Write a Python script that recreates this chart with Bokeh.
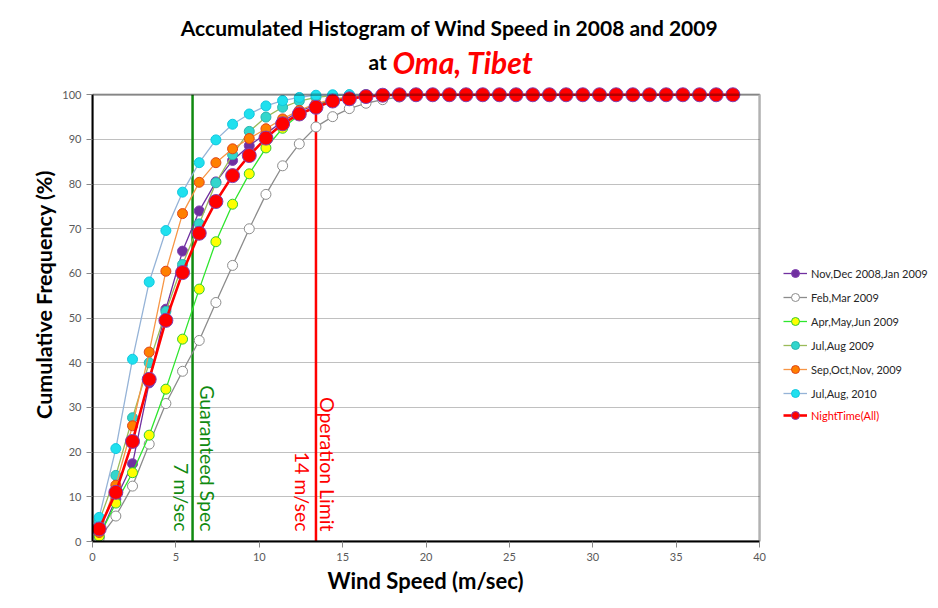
import math
from bokeh.plotting import figure
from bokeh.models import (Legend, LegendItem, Label, FixedTicker, Range1d, ColumnDataSource,
                          BoxAnnotation)
from bokeh.embed import file_html
from bokeh.resources import INLINE

# ---------------- data ----------------
WIND_SPEED = [0.4, 1.4, 2.4, 3.4, 4.4, 5.4, 6.4, 7.4, 8.4, 9.4,
              10.4, 11.4, 12.4, 13.4, 14.4, 15.4, 16.4, 17.4, 18.4, 19.4,
              20.4, 21.4, 22.4, 23.4, 24.4, 25.4, 26.4, 27.4, 28.4, 29.4,
              30.4, 31.4, 32.4, 33.4, 34.4, 35.4, 36.4, 37.4, 38.4]

NOV_JAN_0809 = [1.0, 9.5, 17.4, 35.5, 52.0, 65.0, 74.0, 80.5, 85.3, 88.6,
                91.3, 94.0, 96.3, 97.8, 98.8, 99.4, 99.7, 99.9, 100, 100,
                100, 100, 100, 100, 100, 100, 100, 100, 100, 100,
                100, 100, 100, 100, 100, 100, 100, 100, 100]
FEB_MAR_09 = [0.7, 5.7, 12.4, 21.8, 30.9, 38.1, 45.0, 53.5, 61.8, 70.0,
              77.7, 84.1, 89.0, 92.8, 95.1, 96.9, 98.1, 98.9, 99.5, 99.8,
              100, 100, 100, 100, 100, 100, 100, 100, 100, 100,
              100, 100, 100, 100, 100, 100, 100, 100, 100]
APR_JUN_09 = [1.2, 8.6, 15.4, 23.8, 34.1, 45.3, 56.5, 67.1, 75.5, 82.3,
              88.1, 92.5, 95.5, 97.5, 98.8, 99.5, 99.8, 100, 100, 100,
              100, 100, 100, 100, 100, 100, 100, 100, 100, 100,
              100, 100, 100, 100, 100, 100, 100, 100, 100]
JUL_AUG_09 = [4.5, 14.8, 27.7, 40.0, 51.5, 62.0, 71.1, 80.3, 86.6, 91.8,
              95.0, 97.2, 98.6, 99.4, 99.8, 100, 100, 100, 100, 100,
              100, 100, 100, 100, 100, 100, 100, 100, 100, 100,
              100, 100, 100, 100, 100, 100, 100, 100, 100]
SEP_NOV_09 = [2.0, 12.6, 25.9, 42.4, 60.5, 73.4, 80.4, 84.8, 87.9, 90.2,
              92.4, 94.6, 96.5, 98.0, 99.0, 99.5, 99.8, 100, 100, 100,
              100, 100, 100, 100, 100, 100, 100, 100, 100, 100,
              100, 100, 100, 100, 100, 100, 100, 100, 100]
JUL_AUG_10 = [5.4, 20.8, 40.8, 58.1, 69.6, 78.2, 84.8, 89.9, 93.4, 95.7,
              97.5, 98.7, 99.4, 99.9, 100, 100, 100, 100, 100, 100,
              100, 100, 100, 100, 100, 100, 100, 100, 100, 100,
              100, 100, 100, 100, 100, 100, 100, 100, 100]
NIGHT_ALL = [2.8, 11.0, 22.4, 36.3, 49.5, 60.2, 69.0, 76.1, 81.9, 86.4,
             90.3, 93.5, 95.7, 97.2, 98.6, 99.1, 99.6, 99.9, 100, 100,
             100, 100, 100, 100, 100, 100, 100, 100, 100, 100,
             100, 100, 100, 100, 100, 100, 100, 100, 100]

SERIES_NAMES = ["Nov,Dec 2008,Jan 2009", "Feb,Mar 2009", "Apr,May,Jun 2009",
                "Jul,Aug 2009", "Sep,Oct,Nov, 2009", "Jul,Aug, 2010", "NightTime(All)"]

X_TICKS = [0, 5, 10, 15, 20, 25, 30, 35, 40]
Y_TICKS = [0, 10, 20, 30, 40, 50, 60, 70, 80, 90, 100]
X_AXIS = (0, 40)
Y_AXIS = (0, 100)

GUARANTEED_X = 6.0
LIMIT_X = 13.4

# visible window: the axes cover X_AXIS / Y_AXIS, the rest of the frame holds legend & title
X_VIEW_END = 50.73
Y_VIEW_END = 121.1

# ---------------- figure ----------------
p = figure(width=938, height=608, output_backend="svg", toolbar_location=None,
           x_range=Range1d(X_AXIS[0], X_VIEW_END), y_range=Range1d(Y_AXIS[0], Y_VIEW_END),
           min_border_left=92, min_border_right=0, min_border_top=0, min_border_bottom=67)
p.background_fill_color = "white"
p.border_fill_color = "white"
p.outline_line_color = None

p.xgrid.visible = False
p.ygrid.grid_line_color = "#C0C0C0"
p.ygrid.grid_line_width = 1
p.ygrid.bounds = Y_AXIS
try:
    p.ygrid.cross_bounds = X_AXIS
except Exception:
    pass

p.xaxis.ticker = FixedTicker(ticks=X_TICKS)
p.yaxis.ticker = FixedTicker(ticks=Y_TICKS)
p.xaxis.bounds = X_AXIS
p.yaxis.bounds = Y_AXIS
for ax in (p.xaxis, p.yaxis):
    ax.axis_line_color = "black"
    ax.axis_line_width = 2
    ax.major_tick_line_color = "#888888"
    ax.major_tick_out = 6
    ax.major_tick_in = 0
    ax.minor_tick_line_color = None
    ax.major_label_text_font = "Lato"
    ax.major_label_text_font_size = "11px"
    ax.major_label_text_color = "#595959"
    ax.major_label_standoff = 5

# axis titles, centred on the plot box (placed in the panels beside the axes)
p.add_layout(Label(x=333, y=10, x_units="screen", y_units="screen", text="Wind Speed (m/sec)",
                   text_align="center", text_baseline="alphabetic", text_font="Lato",
                   text_font_style="bold", text_font_size="22px", text_color="black"), "below")
p.add_layout(Label(x=10, y=247, x_units="screen", y_units="screen", text="Cumulative Frequency (%)",
                   angle=math.pi / 2, text_align="center", text_baseline="middle", text_font="Lato",
                   text_font_style="bold", text_font_size="21.5px", text_color="black"), "left")

# plot box
p.add_layout(BoxAnnotation(left=X_AXIS[0], right=X_AXIS[1], bottom=Y_AXIS[0], top=Y_AXIS[1],
                           fill_alpha=0, line_color="black", line_width=2.5))

# vertical reference lines
p.segment(x0=[GUARANTEED_X], y0=[Y_AXIS[0]], x1=[GUARANTEED_X], y1=[Y_AXIS[1]],
          line_color="#108A10", line_width=2.5)
p.segment(x0=[LIMIT_X], y0=[Y_AXIS[0]], x1=[LIMIT_X], y1=[Y_AXIS[1]],
          line_color="#FF0000", line_width=2.5)

for txt, xv, off, col in [("Guaranteed Spec", GUARANTEED_X, 15, "#108A10"),
                          ("7 m/sec", GUARANTEED_X, -11, "#108A10"),
                          ("Operation Limit", LIMIT_X, 12, "#FF0000"),
                          ("14 m/sec", LIMIT_X, -13, "#FF0000")]:
    p.add_layout(Label(x=xv, y=10, x_units="data", y_units="screen", x_offset=off,
                       text=txt, angle=-math.pi / 2, text_align="right", text_baseline="middle",
                       text_font="Lato", text_font_size="19.5px", text_color=col))

styles = [
    (NOV_JAN_0809, "#7030A0", 1.3, "#7030A0", "#8040B0", 10),
    (FEB_MAR_09, "#8C8C8C", 1.3, "white", "#8C8C8C", 10),
    (APR_JUN_09, "#2EE62E", 1.3, "#FFFF00", "#33CC33", 10),
    (JUL_AUG_09, "#9BBB59", 1.3, "#33D6CC", "#2BB5B0", 10),
    (SEP_NOV_09, "#F79646", 1.3, "#FF8000", "#E0451A", 10),
    (JUL_AUG_10, "#95B3D7", 1.3, "#1FE0EE", "#10C8E0", 10),
    (NIGHT_ALL, "#FF0000", 2.6, "#FF0000", "#8040B0", 14),
]

items = []
for name, (vals, lc, lw, fc, oc, sz) in zip(SERIES_NAMES, styles):
    src = ColumnDataSource(data=dict(x=WIND_SPEED, y=vals))
    lr = p.line("x", "y", source=src, line_color=lc, line_width=lw)
    sr = p.scatter("x", "y", source=src, size=sz, marker="circle", fill_color=fc,
                   line_color=oc, line_width=1)
    items.append(LegendItem(label=name, renderers=[lr, sr]))


def make_legend(its, color, loc):
    return Legend(items=its, location=loc,
                  label_text_font="Lato", label_text_font_size="11px", label_text_color=color,
                  glyph_width=24, glyph_height=20, label_height=20, spacing=4,
                  label_standoff=4, padding=0, margin=0,
                  border_line_alpha=0, background_fill_alpha=0)

# legend positions: (left, bottom) in pixels from the frame's bottom-left corner
p.add_layout(make_legend(items[:6], "#262626", (691, 138)))
p.add_layout(make_legend(items[6:], "#FF0000", (691, 116)))

# title (two lines, second with mixed styling); pixels from the frame's bottom-left corner
for txt, xx, yy, align, style, size, col in [
        ("Accumulated Histogram of Wind Speed in 2008 and 2009", 357, 514, "center", "bold", "21px", "black"),
        ("at", 276, 480, "left", "bold", "21px", "black"),
        ("Oma, Tibet", 300, 480, "left", "bold italic", "30px", "#FF0000")]:
    p.add_layout(Label(x=xx, y=yy, x_units="screen", y_units="screen", text=txt,
                       text_align=align, text_baseline="alphabetic", text_font="Lato",
                       text_font_style=style, text_font_size=size, text_color=col))

open("out.html", "w").write(file_html(p, INLINE))
